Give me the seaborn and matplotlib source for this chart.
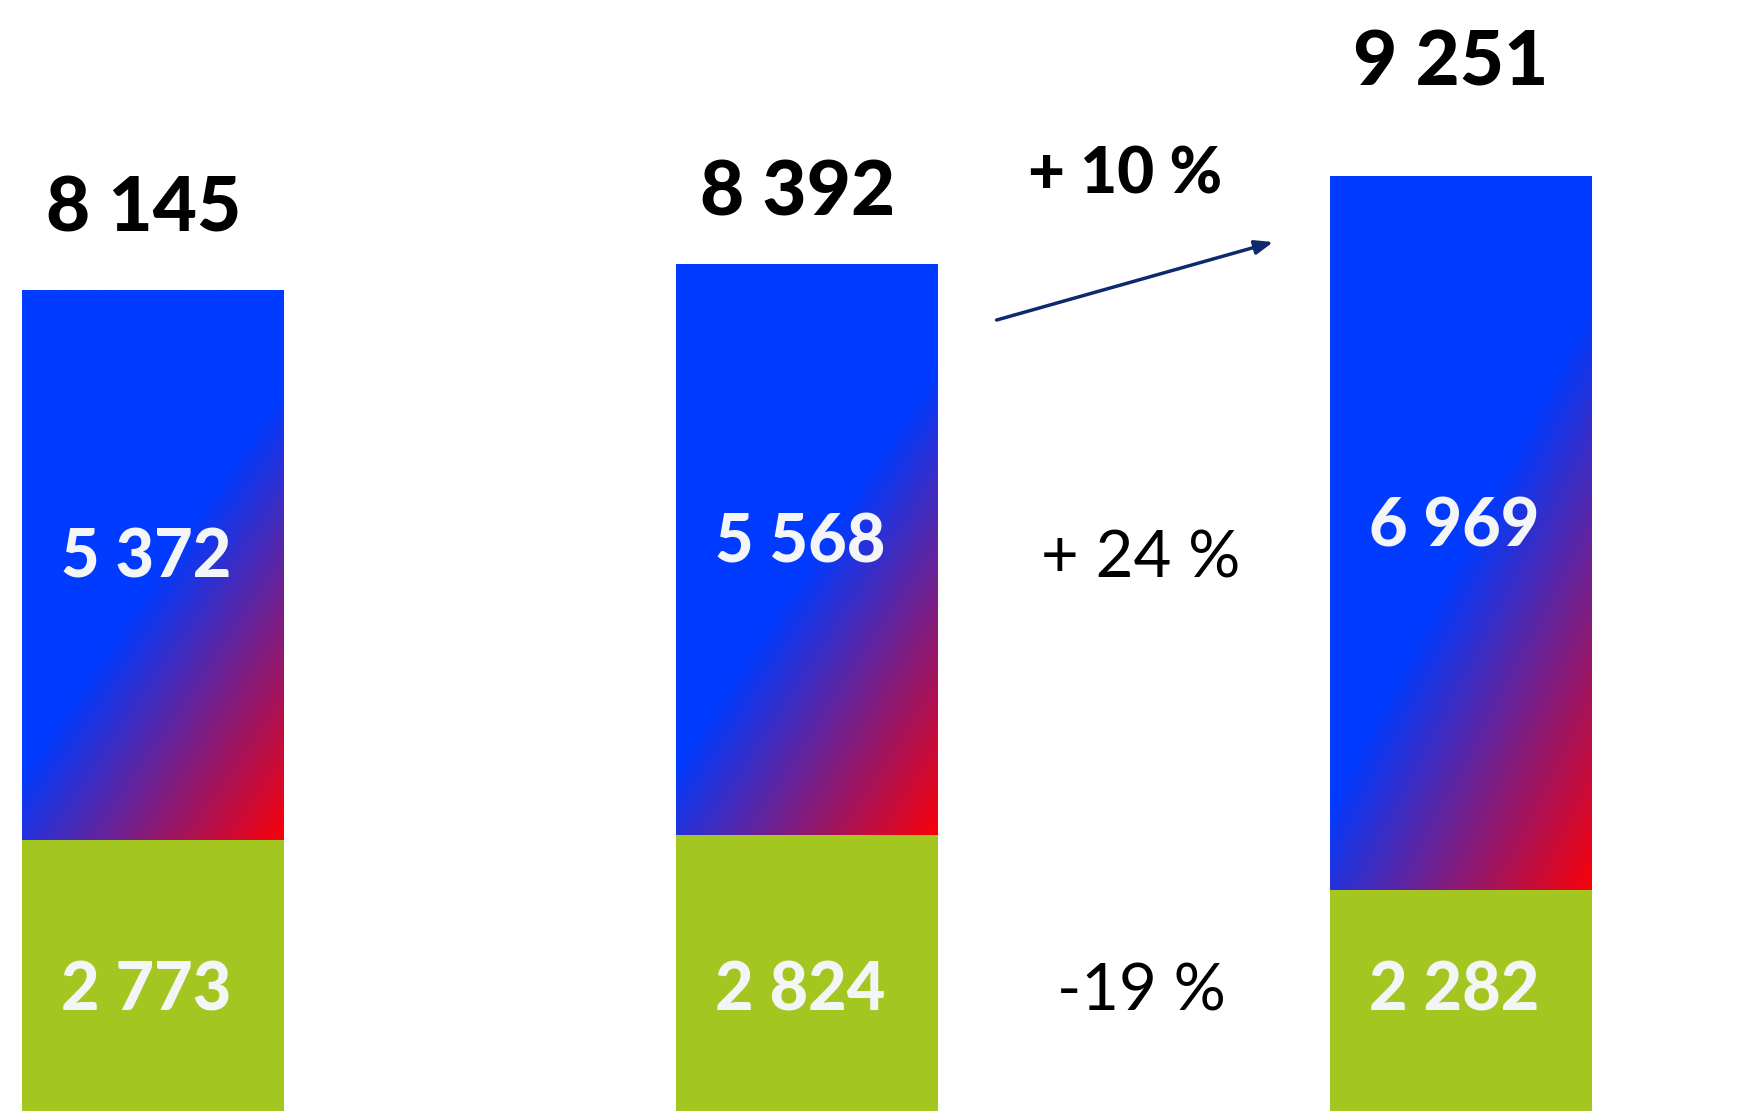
import numpy as np
import pandas as pd
import matplotlib
matplotlib.use("Agg")
import matplotlib.pyplot as plt
import seaborn as sns

# ---- data ----
categories = ["P1", "P2", "P3"]
green_values = [2773, 2824, 2282]
blue_values = [5372, 5568, 6969]
totals = [8145, 8392, 9251]
total_labels = ["8 145", "8 392", "9 251"]
blue_labels = ["5 372", "5 568", "6 969"]
green_labels = ["2 773", "2 824", "2 282"]
change_total = "+ 10 %"
change_blue = "+ 24 %"
change_green = "-19 %"

# ---- style ----
sns.set_theme(style="white")
plt.rcParams["font.family"] = ["Lato", "DejaVu Sans"]

BLUE = np.array([0, 59, 255]) / 255
RED = np.array([250, 0, 8]) / 255
GREEN = "#A3C620"
LABEL_WHITE = "#F4F5F7"
NAVY = "#0E2A6E"

fig = plt.figure(figsize=(17.65, 11.11), dpi=100)
ax = fig.add_axes([0, 0, 1, 1])

df = pd.DataFrame({"cat": categories, "total": totals, "green": green_values, "blue": blue_values})

BAR_W = 0.40
sns.barplot(data=df, x="cat", y="total", color=matplotlib.colors.to_hex(BLUE), width=BAR_W,
            saturation=1, ax=ax, linewidth=0)
n_tot = len(ax.patches)
sns.barplot(data=df, x="cat", y="green", color=GREEN, width=BAR_W,
            saturation=1, ax=ax, linewidth=0)

tot_patches = ax.patches[:n_tot]
for p in ax.patches[n_tot:]:
    p.set_zorder(3)

# gradient fill of the blue segments
H, W = 400, 200
u = np.linspace(0, 1, W)[None, :]
v = np.linspace(0, 1, H)[:, None]
s = 0.7 * u + v
t = np.clip((s - 0.88) / 0.82, 0, 1)
img = (1 - t)[..., None] * BLUE + t[..., None] * RED
for i, p in enumerate(tot_patches):
    x0 = p.get_x()
    x1 = x0 + p.get_width()
    ax.imshow(img, extent=[x0, x1, green_values[i], totals[i]], origin="upper",
              aspect="auto", zorder=2, interpolation="bilinear")

ax.set_xlim(-0.234, 2.465)
ax.set_ylim(126, 10978)
ax.axis("off")

# labels
total_offsets = [790, 700, 1110]
for i in range(len(categories)):
    xc = i
    ax.text(xc - 0.015, totals[i] + total_offsets[i], total_labels[i], ha="center", va="center",
            fontsize=55, fontweight="black", color="black", zorder=5)
    ax.text(xc - 0.01, green_values[i] + blue_values[i] / 2 + 60, blue_labels[i],
            ha="center", va="center", fontsize=48, fontweight="black", color=LABEL_WHITE, zorder=5)
    ax.text(xc - 0.01, 1290, green_labels[i], ha="center", va="center",
            fontsize=48, fontweight="black", color=LABEL_WHITE, zorder=5)

# change annotations between bars 2 and 3
ax.text(1.486, 9270, change_total, ha="center", va="center", fontsize=46,
        fontweight="black", color="black", zorder=5)
ax.text(1.511, 5520, change_blue, ha="center", va="center", fontsize=47,
        fontweight="normal", color="black", zorder=5)
ax.text(1.511, 1290, change_green, ha="center", va="center", fontsize=47,
        fontweight="normal", color="black", zorder=5)
ax.annotate("", xy=(1.713, 8614), xytext=(1.29, 7852),
            arrowprops=dict(arrowstyle="-|>,head_length=0.9,head_width=0.35", color=NAVY, lw=2.5,
                            shrinkA=0, shrinkB=0), zorder=5)

fig.savefig("out.png", dpi=100, facecolor="white")
